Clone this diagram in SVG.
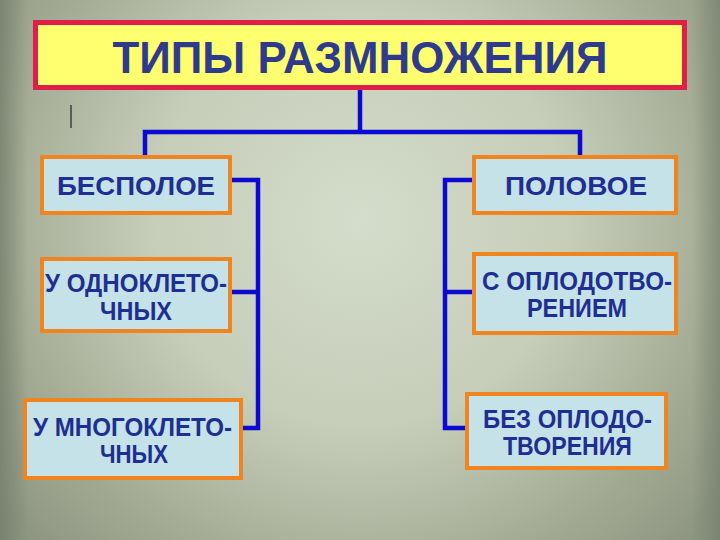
<svg xmlns="http://www.w3.org/2000/svg" width="720" height="540" viewBox="0 0 720 540">
<defs>
<radialGradient id="bg" cx="360" cy="220" r="460" gradientUnits="userSpaceOnUse">
<stop offset="0" stop-color="#d4dccb"/>
<stop offset="0.45" stop-color="#c6cdb9"/>
<stop offset="0.8" stop-color="#a2a993"/>
<stop offset="1" stop-color="#8e9682"/>
</radialGradient>
<linearGradient id="edgeL" x1="0" y1="0" x2="1" y2="0">
<stop offset="0" stop-color="#6f7a68" stop-opacity="0.7"/>
<stop offset="1" stop-color="#6f7a68" stop-opacity="0"/>
</linearGradient>
<linearGradient id="edgeR" x1="1" y1="0" x2="0" y2="0">
<stop offset="0" stop-color="#6f7a68" stop-opacity="0.6"/>
<stop offset="1" stop-color="#6f7a68" stop-opacity="0"/>
</linearGradient>
<style>
.box{fill:#c5e2e8;stroke:#f08520;stroke-width:4}
.t{font-family:"Liberation Sans",Arial,sans-serif;font-weight:bold;fill:#1e2e92;text-anchor:middle;font-size:25px}
.c{fill:none;stroke:#0a0ad2;stroke-width:4.5;stroke-linejoin:miter}
</style>
</defs>
<rect width="720" height="540" fill="url(#bg)"/>
<rect x="0" y="0" width="28" height="540" fill="url(#edgeL)"/>
<rect x="692" y="0" width="28" height="540" fill="url(#edgeR)"/>
<g id="title">
<rect x="35.5" y="22.5" width="649" height="65" fill="#ffff70" stroke="#e01e4a" stroke-width="5"/>
<text x="360" y="73" font-family="'Liberation Sans',Arial,sans-serif" font-weight="bold" font-size="45" fill="#2e3a8c" text-anchor="middle" textLength="495" lengthAdjust="spacingAndGlyphs">ТИПЫ РАЗМНОЖЕНИЯ</text>
</g>
<line x1="71" y1="105" x2="71" y2="128" stroke="#222" stroke-width="1.2"/>
<g id="connectors">
<polyline class="c" points="360,90 360,132"/>
<polyline class="c" points="145,155 145,132 580,132 580,155"/>
<polyline class="c" points="231,180 258,180 258,428 243,428"/>
<polyline class="c" points="231,292 258,292"/>
<polyline class="c" points="472,180 445,180 445,428 465,428"/>
<polyline class="c" points="472,292 445,292"/>
</g>
<g id="bespoloe">
<rect class="box" x="42" y="157" width="188" height="56"/>
<text class="t" x="136" y="195" font-size="26" textLength="158" lengthAdjust="spacingAndGlyphs">БЕСПОЛОЕ</text>
</g>
<g id="odnokletochnyh">
<rect class="box" x="42" y="259" width="188" height="72"/>
<text class="t" x="136" y="292" textLength="182" lengthAdjust="spacingAndGlyphs">У ОДНОКЛЕТО-</text>
<text class="t" x="136" y="320" textLength="72" lengthAdjust="spacingAndGlyphs">ЧНЫХ</text>
</g>
<g id="mnogokletochnyh">
<rect class="box" x="25" y="400" width="216" height="78"/>
<text class="t" x="132.5" y="436" textLength="199" lengthAdjust="spacingAndGlyphs">У МНОГОКЛЕТО-</text>
<text class="t" x="134" y="463" textLength="68" lengthAdjust="spacingAndGlyphs">ЧНЫХ</text>
</g>
<g id="polovoe">
<rect class="box" x="474" y="157" width="202" height="56"/>
<text class="t" x="576" y="195" font-size="26" textLength="142" lengthAdjust="spacingAndGlyphs">ПОЛОВОЕ</text>
</g>
<g id="s-oplodotvoreniem">
<rect class="box" x="474" y="254" width="202" height="79"/>
<text class="t" x="577" y="290" textLength="190" lengthAdjust="spacingAndGlyphs">С ОПЛОДОТВО-</text>
<text class="t" x="577" y="317" textLength="100" lengthAdjust="spacingAndGlyphs">РЕНИЕМ</text>
</g>
<g id="bez-oplodotvoreniya">
<rect class="box" x="467" y="394" width="199" height="74"/>
<text class="t" x="567.5" y="428" textLength="169" lengthAdjust="spacingAndGlyphs">БЕЗ ОПЛОДО-</text>
<text class="t" x="567.5" y="455" textLength="129" lengthAdjust="spacingAndGlyphs">ТВОРЕНИЯ</text>
</g>
</svg>
